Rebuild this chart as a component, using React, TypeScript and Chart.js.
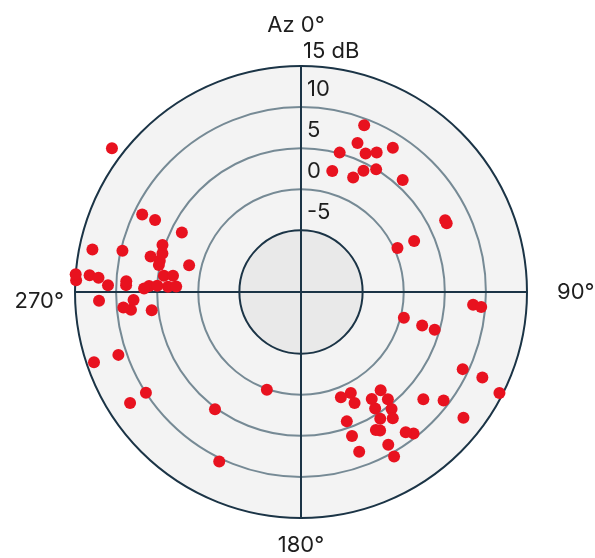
import React, { useEffect, useRef } from 'react';
import { Chart, registerables } from 'chart.js';

Chart.register(...registerables);

// ---- data ----
const AZ_STEPS = 1440; // angular resolution of the radial category axis (0.25°)
const R_MIN = -12.5;
const R_MAX = 15;
const ringTicks = [-5, 0, 5, 10, 15];
const tickLabels = ['-5', '0', '5', '10', '15 dB'];
const compassLabels = ['Az 0°', '90°', '180°', '270°'];

// West cluster (azimuth deg, level dB)
const westAz = [307.3, 296.1, 296.2, 296.6, 281.4, 283.0, 288.7, 285.6, 283.2, 282.5, 280.7, 283.4, 274.5, 272.9, 274.4, 273.9, 271.9, 273.6, 272.3, 276.8, 277.3, 272.3, 272.4, 271.3, 272.3, 272.4, 267.4, 267.3, 265.0, 263.9, 263.1];
const westDb = [16.4, 9.0, 7.3, 3.7, 13.4, 9.8, 5.3, 5.0, 6.3, 5.1, 5.1, 1.5, 15.0, 14.9, 13.3, 12.2, 11.0, 8.8, 8.8, 4.3, 3.2, 3.7, 2.7, 6.6, 6.0, 5.0, 12.1, 7.9, 9.2, 8.3, 5.8];

// North-east cluster
const northEastAz = [20.8, 20.8, 32.4, 15.6, 25.1, 28.5, 14.5, 24.6, 27.2, 31.5, 42.2, 63.4, 64.8, 65.8, 65.4];
const northEastDb = [9.2, 6.9, 8.3, 5.1, 6.1, 6.8, 2.7, 2.8, 4.1, 5.0, 5.9, 7.1, 7.1, 2.6, 0.4];

// South-east cluster
const southEastAz = [94.3, 94.7, 104.0, 105.4, 105.7, 115.5, 115.3, 117.0, 159.2, 153.7, 154.3, 141.0, 146.6, 140.9, 147.5, 142.3, 148.1, 144.0, 131.3, 127.3, 127.8, 160.5, 151.5, 150.2, 143.2, 141.5, 160.5, 150.3, 159.9, 150.6];
const southEastDb = [8.5, 9.5, 0.4, 2.8, 4.4, 9.3, 11.9, 14.6, 1.2, 1.2, 2.5, 2.9, 3.1, 4.3, 4.3, 5.5, 5.7, 6.5, 7.3, 9.3, 12.5, 4.2, 6.6, 6.9, 8.8, 9.5, 6.1, 8.9, 8.2, 10.5];

// South-west cluster
const southWestAz = [251.2, 251.1, 237.0, 237.1, 216.3, 199.3, 205.8];
const southWestDb = [14.1, 11.0, 10.0, 12.3, 5.2, 0.1, 10.4];

// ---- styles ----
const RED = '#e8121f';
const DARK = '#1b3446';
const RING = '#768a95';
const FILL_OUTER = '#f3f3f3';
const FILL_INNER = '#e9e9e9';
const TEXT = '#1e1e1e';
const FONT = '22px Inter, "Noto Sans", sans-serif';

function buildDatasets() {
  const groups: [number[], number[]][] = [
    [westAz, westDb],
    [northEastAz, northEastDb],
    [southEastAz, southEastDb],
    [southWestAz, southWestDb],
  ];
  const rows: (number | null)[][] = [];
  groups.forEach(([az, db]) => {
    az.forEach((a, i) => {
      const idx = Math.round((a / 360) * AZ_STEPS) % AZ_STEPS;
      let row = rows.find((r) => r[idx] === null);
      if (!row) {
        row = new Array(AZ_STEPS).fill(null);
        rows.push(row);
      }
      row[idx] = db[i];
    });
  });
  return rows.map((data) => ({
    data,
    showLine: false,
    fill: false,
    borderWidth: 0,
    borderColor: 'transparent',
    backgroundColor: RED,
    pointRadius: 6,
    pointHoverRadius: 6,
    pointBackgroundColor: RED,
    pointBorderWidth: 0,
    pointBorderColor: RED,
    clip: false,
  }));
}

const polarDecor = {
  id: 'polarDecor',
  beforeDraw(chart: any) {
    const s = chart.scales.r;
    const ctx = chart.ctx;
    const xc = s.xCenter;
    const yc = s.yCenter;
    ctx.save();
    ctx.fillStyle = FILL_OUTER;
    ctx.beginPath();
    ctx.arc(xc, yc, s.drawingArea, 0, Math.PI * 2);
    ctx.fill();
    ctx.fillStyle = FILL_INNER;
    ctx.beginPath();
    ctx.arc(xc, yc, s.getDistanceFromCenterForValue(ringTicks[0]), 0, Math.PI * 2);
    ctx.fill();
    ctx.restore();
  },
  afterDraw(chart: any) {
    const s = chart.scales.r;
    const ctx = chart.ctx;
    const xc = s.xCenter;
    const yc = s.yCenter;
    const R = s.drawingArea;
    ctx.save();
    ctx.font = FONT;
    ctx.fillStyle = TEXT;
    ctx.textBaseline = 'middle';
    // radial tick labels
    ctx.textAlign = 'left';
    ringTicks.forEach((v, i) => {
      const d = s.getDistanceFromCenterForValue(v);
      const isOuter = i === ringTicks.length - 1;
      ctx.fillText(tickLabels[i], xc + (isOuter ? 2 : 6), yc - d - (isOuter ? 15 : 18));
    });
    // compass labels
    ctx.textAlign = 'center';
    ctx.fillText(compassLabels[0], xc - 5, yc - R - 41);
    ctx.fillText(compassLabels[2], xc, yc + R + 27);
    ctx.textAlign = 'left';
    ctx.fillText(compassLabels[1], xc + R + 30, yc);
    ctx.textAlign = 'right';
    ctx.fillText(compassLabels[3], xc - R - 11, yc + 9);
    ctx.restore();
  },
};

export default function App() {
  const canvasRef = useRef<HTMLCanvasElement | null>(null);

  useEffect(() => {
    if (!canvasRef.current) return;
    const labels = new Array(AZ_STEPS).fill('');
    const chart = new Chart(canvasRef.current, {
      type: 'radar',
      data: { labels, datasets: buildDatasets() as any },
      options: {
        responsive: false,
        animation: false,
        events: [],
        layout: { padding: { left: 75, right: 68, top: 66, bottom: 40 } },
        plugins: { legend: { display: false }, tooltip: { enabled: false } },
        scales: {
          r: {
            min: R_MIN,
            max: R_MAX,
            startAngle: 0,
            afterBuildTicks: (scale: any) => {
              scale.ticks = ringTicks.map((value) => ({ value }));
            },
            ticks: { display: false },
            pointLabels: { display: false },
            grid: {
              circular: true,
              lineWidth: 2,
              color: (c: any) =>
                c.tick && (c.tick.value === ringTicks[0] || c.tick.value === ringTicks[ringTicks.length - 1])
                  ? DARK
                  : RING,
            },
            angleLines: {
              display: true,
              color: DARK,
              lineWidth: (c: any) => (c.index % (AZ_STEPS / 4) === 0 ? 2 : 0),
            },
          },
        },
      } as any,
      plugins: [polarDecor],
    });
    return () => chart.destroy();
  }, []);

  return (
    <div style={{ position: 'absolute', left: 0, top: 0, width: 595, height: 558 }}>
      <canvas ref={canvasRef} width={595} height={558} style={{ display: 'block' }} />
    </div>
  );
}
